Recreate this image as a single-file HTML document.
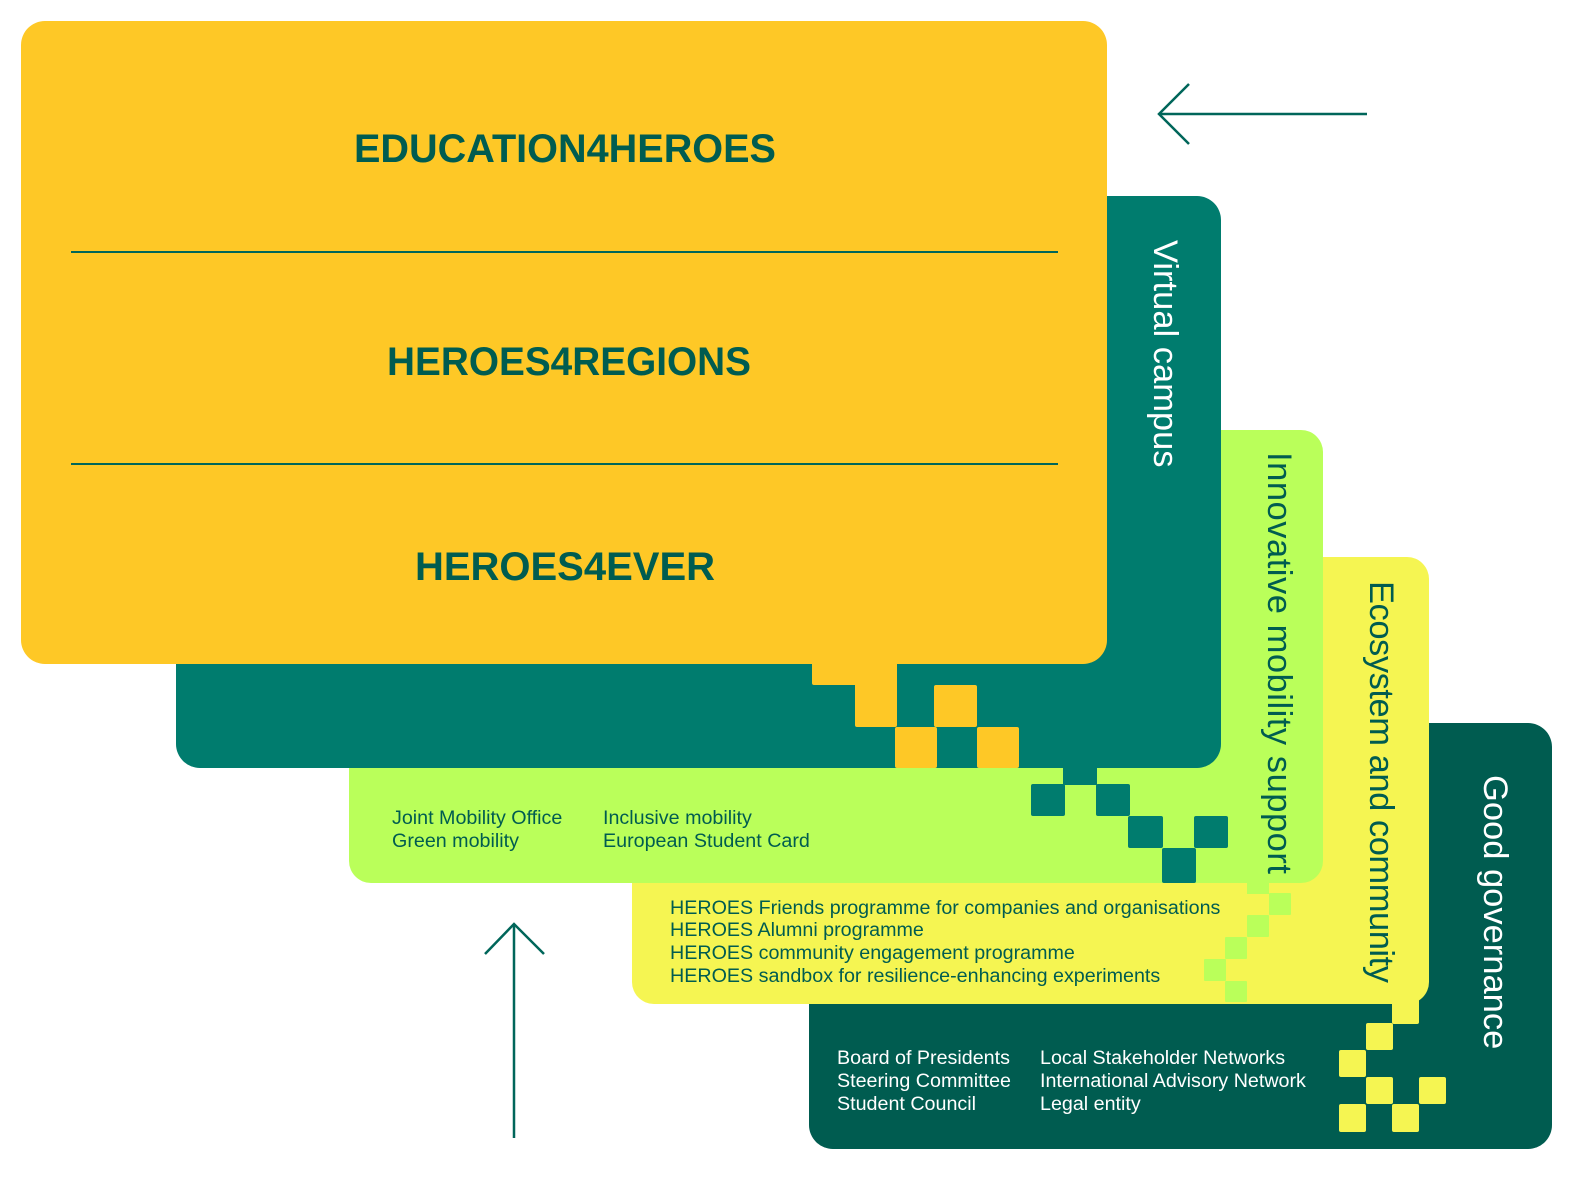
<!DOCTYPE html>
<html><head><meta charset="utf-8"><style>
html,body{margin:0;padding:0;background:#fff;}
svg{display:block;}
text{font-family:"Liberation Sans",sans-serif;}
</style></head><body>
<svg width="1594" height="1182" viewBox="0 0 1594 1182" xmlns="http://www.w3.org/2000/svg">
<rect x="809" y="723" width="743" height="426" rx="24" fill="#005C50"/>
<g fill="#F5F552">
<rect x="632" y="557" width="797" height="447" rx="22"/>
<rect x="1392" y="990" width="27" height="34" rx="2"/>
<rect x="1366" y="1023" width="27" height="27" rx="2"/>
<rect x="1339" y="1050" width="27" height="27" rx="2"/>
<rect x="1366" y="1077" width="27" height="27" rx="2"/>
<rect x="1419" y="1077" width="27" height="27" rx="2"/>
<rect x="1339" y="1104" width="27" height="28" rx="2"/>
<rect x="1392" y="1104" width="27" height="28" rx="2"/>
</g>
<g fill="#BAFF5A">
<rect x="349" y="430" width="974" height="453" rx="22"/>
<rect x="1247" y="870" width="22" height="24"/>
<rect x="1269" y="893" width="22" height="22" rx="1"/>
<rect x="1247" y="915" width="22" height="22" rx="1"/>
<rect x="1225" y="937" width="22" height="22" rx="1"/>
<rect x="1204" y="959" width="22" height="22" rx="1"/>
<rect x="1225" y="981" width="22" height="21" rx="1"/>
</g>
<g fill="#007C6E">
<rect x="176" y="196" width="1045" height="572" rx="24"/>
<rect x="1063" y="755" width="34" height="30"/>
<rect x="1031" y="784" width="34" height="32" rx="2"/>
<rect x="1096" y="784" width="34" height="32" rx="2"/>
<rect x="1128" y="816" width="35" height="32" rx="2"/>
<rect x="1194" y="816" width="34" height="32" rx="2"/>
<rect x="1162" y="848" width="34" height="35" rx="2"/>
</g>
<g fill="#FEC826">
<rect x="21" y="21" width="1086" height="643" rx="24"/>
<rect x="812" y="650" width="85" height="35" rx="2"/>
<rect x="855" y="680" width="42" height="47" rx="2"/>
<rect x="934" y="685" width="43" height="42" rx="2"/>
<rect x="895" y="727" width="42" height="41" rx="2"/>
<rect x="977" y="727" width="42" height="41" rx="2"/>
</g>
<line x1="71" y1="252" x2="1058" y2="252" stroke="#00665A" stroke-width="2"/>
<line x1="71" y1="464" x2="1058" y2="464" stroke="#00665A" stroke-width="2"/>
<g fill="#005C50" font-weight="bold" font-size="40" text-anchor="middle">
<text x="565" y="162" textLength="422" lengthAdjust="spacingAndGlyphs">EDUCATION4HEROES</text>
<text x="569" y="375" textLength="364" lengthAdjust="spacingAndGlyphs">HEROES4REGIONS</text>
<text x="565" y="580">HEROES4EVER</text>
</g>
<g font-size="34.5">
<text transform="translate(1154,240) rotate(90)" fill="#fff">Virtual campus</text>
<text transform="translate(1268,452) rotate(90)" fill="#005C50" textLength="422">Innovative mobility support</text>
<text transform="translate(1370,581) rotate(90)" fill="#005C50" textLength="402">Ecosystem and community</text>
<text transform="translate(1484,775) rotate(90)" fill="#fff">Good governance</text>
</g>
<g font-size="19.7" fill="#005C50">
<text x="392" y="824">Joint Mobility Office</text>
<text x="392" y="847">Green mobility</text>
<text x="603" y="824">Inclusive mobility</text>
<text x="603" y="847">European Student Card</text>
<text x="670" y="914">HEROES Friends programme for companies and organisations</text>
<text x="670" y="936">HEROES Alumni programme</text>
<text x="670" y="959">HEROES community engagement programme</text>
<text x="670" y="982">HEROES sandbox for resilience-enhancing experiments</text>
</g>
<g font-size="19.7" fill="#fff">
<text x="837" y="1064">Board of Presidents</text>
<text x="837" y="1087">Steering Committee</text>
<text x="837" y="1110">Student Council</text>
<text x="1040" y="1064">Local Stakeholder Networks</text>
<text x="1040" y="1087">International Advisory Network</text>
<text x="1040" y="1110">Legal entity</text>
</g>
<g stroke="#00665A" stroke-width="2.5" fill="none">
<line x1="1159" y1="114" x2="1367" y2="114"/>
<polyline points="1189,84 1159,114 1189,144"/>
<line x1="514" y1="924" x2="514" y2="1138"/>
<polyline points="485,954 514,924 544,954"/>
</g>
</svg>
</body></html>
